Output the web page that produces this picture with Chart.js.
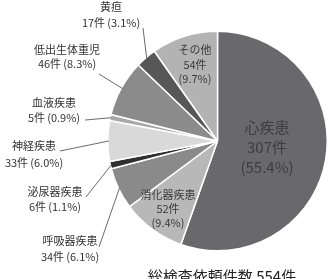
<!DOCTYPE html>
<html>
<head>
<meta charset="utf-8">
<script src="https://cdn.jsdelivr.net/npm/chart.js@4"></script>
<style>
  body { margin: 0; background: #fff; }
  #wrap { width: 328px; height: 279px; position: relative; }
</style>
</head>
<body>
<div id="wrap"><canvas id="pie-chart"></canvas></div>
<script>
const categories = ['心疾患', '消化器疾患', '呼吸器疾患', '泌尿器疾患', '神経疾患', '血液疾患', '低出生体重児', '黄疸', 'その他'];
const counts = [307, 52, 34, 6, 33, 5, 46, 17, 54];
const percents = ['55.4', '9.4', '6.1', '1.1', '6.0', '0.9', '8.3', '3.1', '9.7'];
const totalLabel = '総検査依頼件数 554件';

const sliceColors = ['#69696b', '#b8b8b8', '#8a8a8a', '#2f2f2f', '#d9d9d9', '#a8a8a8', '#8b8b8b', '#575757', '#b3b3b3'];

// label placement: inside labels are 3 lines, outside ones are 2 lines + leader
const labelLayout = [
  { x: 267, y: 127, inside: true, size: 15, gap: 20, color: '#3d3d3f' },
  { x: 168, y: 195, inside: true, size: 11, gap: 14, color: '#3a3a3a' },
  { x: 70, y: 241, size: 11, gap: 16, lead: [99, 247] },
  { x: 55, y: 192, size: 11, gap: 15, lead: [86, 197] },
  { x: 34, y: 146, size: 11, gap: 17, lead: [60, 151] },
  { x: 54, y: 103, size: 11, gap: 15, lead: [85, 120] },
  { x: 67, y: 50, size: 11, gap: 14, lead: [99, 74] },
  { x: 111, y: 7, size: 11, gap: 16, lead: [143, 28] },
  { x: 195, y: 50, inside: true, size: 11, gap: 14.5, color: '#3a3a3a' }
];

const FONT = '"Noto Sans CJK JP", "Noto Sans", sans-serif';
const TS = '\u2009';

const pieLabels = {
  id: 'pieLabels',
  afterDraw(chart) {
    const ctx = chart.ctx;
    const arcs = chart.getDatasetMeta(0).data;
    ctx.save();
    ctx.textAlign = 'center';
    ctx.textBaseline = 'middle';
    arcs.forEach((arc, i) => {
      const lay = labelLayout[i];
      const pct = '(' + percents[i] + '%)';
      const lines = lay.inside
        ? [categories[i], counts[i] + '件', pct]
        : [categories[i], counts[i] + '件' + TS + pct];
      ctx.fillStyle = lay.color || '#333';
      ctx.font = lay.size + 'px ' + FONT;
      lines.forEach((t, k) => ctx.fillText(t, lay.x, lay.y + k * lay.gap));
      if (lay.lead) {
        const mid = (arc.startAngle + arc.endAngle) / 2;
        const r = arc.outerRadius - 1;
        ctx.strokeStyle = '#444';
        ctx.lineWidth = 0.8;
        ctx.beginPath();
        ctx.moveTo(lay.lead[0], lay.lead[1]);
        ctx.lineTo(arc.x + Math.cos(mid) * r, arc.y + Math.sin(mid) * r);
        ctx.stroke();
      }
    });
    ctx.fillStyle = '#222';
    ctx.font = '15px ' + FONT;
    ctx.fillText(totalLabel, 222, 276);
    ctx.restore();
  }
};

new Chart(document.getElementById('pie-chart'), {
  type: 'pie',
  data: {
    labels: categories,
    datasets: [{
      data: counts,
      backgroundColor: sliceColors,
      borderColor: '#fff',
      borderWidth: 1.5
    }]
  },
  options: {
    responsive: true,
    maintainAspectRatio: false,
    animation: false,
    layout: { padding: { left: 107, right: 0, top: 30, bottom: 27 } },
    plugins: {
      legend: { display: false },
      tooltip: { enabled: false }
    }
  },
  plugins: [pieLabels]
});
</script>
</body>
</html>
